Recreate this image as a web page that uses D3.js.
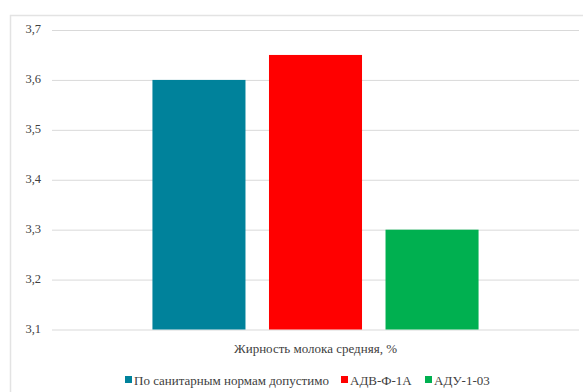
<!DOCTYPE html>
<html><head><meta charset="utf-8">
<script src="https://cdn.jsdelivr.net/npm/d3@7"></script>
<style>
body{margin:0;background:#fff;font-family:"Liberation Serif","Times New Roman",serif;}
#wrap{position:relative;width:583px;height:392px;overflow:hidden;}
#wrap svg{position:absolute;left:0;top:0;}
.lbl{position:absolute;white-space:nowrap;color:#404040;line-height:15px;font-family:"Liberation Serif","Times New Roman",serif;}
</style>
</head><body>
<div id="wrap"><svg id="chart" width="583" height="392"></svg></div>
<script>
const seriesNames = ["По санитарным нормам допустимо", "АДВ-Ф-1А", "АДУ-1-03"];
const seriesValues = [3.6, 3.65, 3.3];
const seriesColors = ["#00829b", "#ff0000", "#00b050"];
const category = "Жирность молока средняя, %";
const yTicks = [3.1, 3.2, 3.3, 3.4, 3.5, 3.6, 3.7];

const W = 583;
const wrap = d3.select("#wrap");
const svg = d3.select("#chart");
// outer chart frame
svg.append("rect").attr("x", 10.5).attr("y", 15.5).attr("width", 590).attr("height", 400)
  .attr("fill", "#fff").attr("stroke", "#e3e3e3").attr("stroke-width", 1.5);

const plot = { left: 52, right: 579, top: 30, bottom: 329.5 };
const y = d3.scaleLinear().domain([3.1, 3.7]).range([plot.bottom, plot.top]);
const x0 = d3.scaleBand().domain([category]).range([plot.left, plot.right]).paddingInner(0).paddingOuter(0.308);
const x1 = d3.scaleBand().domain(seriesNames).range([0, x0.bandwidth()]).paddingInner(0.2017);

// gridlines from the axis; tick labels are set as text blocks beside them
const yAxis = d3.axisLeft(y).tickValues(yTicks).tickSize(-(plot.right - plot.left)).tickFormat("");
const gy = svg.append("g").attr("transform", `translate(${plot.left},0)`).call(yAxis);
gy.select(".domain").remove();
gy.selectAll(".tick line").attr("stroke", "#d9d9d9").attr("stroke-width", 1);
gy.selectAll(".tick text").remove();

const fmt = d => d3.format(".1f")(d).replace(".", ",");
wrap.selectAll(".ytick").data(yTicks).join("div")
  .attr("class", "lbl ytick")
  .style("font-size", "12.5px")
  .style("right", (W - (plot.left - 11)) + "px")
  .style("top", d => (y(d) - 8) + "px")
  .text(fmt);

const g = svg.append("g").attr("transform", `translate(${x0(category)},0)`);
g.selectAll("rect").data(seriesNames).join("rect")
  .attr("x", d => x1(d))
  .attr("width", x1.bandwidth())
  .attr("y", (d, i) => y(seriesValues[i]))
  .attr("height", (d, i) => y(3.1) - y(seriesValues[i]))
  .attr("fill", (d, i) => seriesColors[i]);

// category title under the axis
wrap.append("div").attr("class", "lbl")
  .style("font-size", "13px")
  .style("left", (x0(category) + x0.bandwidth() / 2) + "px")
  .style("top", "341px")
  .style("transform", "translateX(-50%)")
  .text(category);

// legend
const legendX = [125, 341, 425];
seriesNames.forEach((name, i) => {
  svg.append("rect").attr("x", legendX[i]).attr("y", 376).attr("width", 7).attr("height", 7).attr("fill", seriesColors[i]);
  wrap.append("div").attr("class", "lbl")
    .style("font-size", "13px")
    .style("left", (legendX[i] + 9) + "px")
    .style("top", "372.5px")
    .text(name);
});
</script>
</body></html>
